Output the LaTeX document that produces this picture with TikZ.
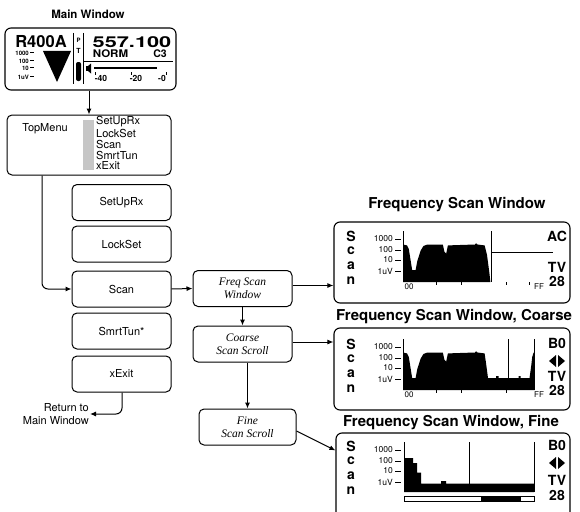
\documentclass[tikz,border=0pt]{standalone}
\usepackage{fontspec}
\usepackage{graphicx}
\setmainfont{TeX Gyre Heros}
\newfontfamily\timesfont{Liberation Serif}
\usetikzlibrary{arrows.meta}
\begin{document}
\begin{tikzpicture}[x=1pt, y=-1pt,
        menubox/.style={draw, line width=1pt, rounded corners=5pt, minimum width=99pt, minimum height=36pt, font=\fontsize{11}{11}\selectfont},
        stepbox/.style={draw, line width=1pt, rounded corners=5pt, minimum width=99pt, minimum height=36pt, align=center, font=\timesfont\itshape\fontsize{11.5}{13}\selectfont},
        winbox/.style={draw, line width=1.1pt, rounded corners=6pt, inner sep=0pt},
        wintitle/.style={font=\bfseries\fontsize{15}{15}\selectfont, inner sep=0pt},
        sideletter/.style={font=\bfseries\fontsize{14}{14}\selectfont, inner sep=0pt},
        lvllabel/.style={font=\fontsize{8.5}{9}\selectfont, anchor=east, inner sep=0pt},
        tinylabel/.style={font=\bfseries\fontsize{6}{6}\selectfont, anchor=east, inner sep=0pt},
        arr/.style={line width=1pt, -{Latex[length=6pt, width=5pt]}}
    ]
    \useasboundingbox (0,0) rectangle (580,511);

    % --- Main Window ---
    \node[font=\bfseries\fontsize{11.5}{12}\selectfont] (mwtitle) at (88,14) {Main Window};
    \node[winbox, minimum width=171pt, minimum height=62pt] (mainwin) at (90.5,59) {};
    \node[font=\bfseries\fontsize{16.5}{17}\selectfont, inner sep=0pt] (model) at (41,42) {R400A};
    \node[font=\bfseries\fontsize{15}{15}\selectfont, inner sep=0pt] (freq) at (132,42) {\scalebox{1.45}[1]{557.100}};
    \node[font=\bfseries\fontsize{10.5}{11}\selectfont, inner sep=0pt] (mode) at (110.5,54) {\scalebox{1.1}[1]{NORM}};
    \node[font=\bfseries\fontsize{10.5}{11}\selectfont, inner sep=0pt] (chan) at (160,54) {C3};
    \foreach \lv/\yy in {1000/53, 100/61, 10/68, 1uV/77} {
        \node[tinylabel] (m\lv) at (29,\yy) {\lv};
        \draw[line width=0.6pt] (30,\yy-1) -- (34,\yy-1);
    }
    \fill (43,51) -- (71,51) -- (57,82) -- cycle;
    \draw[line width=0.7pt] (73,33) -- (73,84);
    \draw[line width=0.7pt] (83,33) -- (83,84);
    \draw[line width=0.8pt] (83,61) -- (173,61);
    \node[font=\bfseries\fontsize{6}{6}\selectfont, inner sep=0pt] (mp) at (78.5,40) {P};
    \node[font=\bfseries\fontsize{7}{7}\selectfont, inner sep=0pt] (mt) at (78.5,51) {T};
    \fill[rounded corners=2pt] (76,62) rectangle (81,81);
    % altoparlante e barra del livello
    \fill (86,66) rectangle (88,71);
    \fill (88,66) -- (91,63.5) -- (91,73.5) -- (88,71) -- cycle;
    \draw[line width=2.5pt] (94,68) -- (157,68);
    \foreach \tx in {95,131,166}
        \draw[line width=0.6pt] (\tx,72) -- (\tx,75);
    \foreach \db/\tx in {-40/101, -20/136, -0/162}
        \node[font=\bfseries\fontsize{8.5}{9}\selectfont, inner sep=0pt] (db\tx) at (\tx,78) {\db};

    % --- TopMenu ---
    \node[menubox, minimum width=164pt, minimum height=60pt] (topmenu) at (89,145) {};
    \node[font=\fontsize{11}{11}\selectfont] (topname) at (45,129) {TopMenu};
    \fill[gray!45] (83,120) rectangle (94,170);
    \foreach \entry [count=\i] in {SetUpRx,LockSet,Scan,SmrtTun,xExit}
        \node[anchor=west, inner sep=0pt, font=\fontsize{11}{11}\selectfont] (item\i) at (96,111+11*\i) {\entry};
    \draw[arr] (mainwin.south -| topmenu.north) -- (topmenu.north);

    % --- Voci del menu ---
    \node[menubox] (setuprx) at (121.5,202.5) {SetUpRx};
    \node[menubox] (lockset) at (121.5,244) {LockSet};
    \node[menubox] (scan) at (121.5,289) {Scan};
    \node[menubox] (smrttun) at (121.5,331) {SmrtTun*};
    \node[menubox] (xexit) at (121.5,374) {xExit};
    \node[anchor=east, align=right, font=\fontsize{11}{12.5}\selectfont, inner sep=1pt] (return) at (90,414) {Return to\\Main Window};

    \draw[arr, rounded corners=6pt] ([xshift=-47pt]topmenu.south) |- (scan.west);
    \draw[arr, rounded corners=6pt] ([xshift=0.5pt]xexit.south) |- (return.east);

    % --- Scan ---
    \node[stepbox] (freqwin) at (242.5,288.5) {Freq Scan\\Window};
    \node[stepbox] (coarse) at (242.5,344) {Coarse\\Scan Scroll};
    \node[stepbox, minimum width=97pt] (fine) at (247.5,427) {Fine\\Scan Scroll};
    \draw[arr] (scan.east) -- (freqwin.west);
    \draw[arr] (freqwin) -- (coarse);
    \draw[arr] (fine.north |- coarse.south) -- (fine.north);

    % --- Finestre di scansione ---
    \node[wintitle] (t1) at (457,205) {Frequency Scan Window};
    \node[wintitle] (t2) at (454,317) {Frequency Scan Window, Coarse};
    \node[wintitle] (t3) at (451,423) {Frequency Scan Window, Fine};
    \node[winbox, minimum width=236pt, minimum height=81pt] (scanwin) at (452,262.5) {};
    \node[winbox, minimum width=236pt, minimum height=82pt] (coarsewin) at (452,369) {};
    \begin{scope}
        \clip (0,0) rectangle (580,511);
        \node[winbox, minimum width=234pt, minimum height=90pt] (finewin) at (453,478) {};
    \end{scope}
    \draw[arr] ([yshift=3pt]freqwin.east) -- ([yshift=3pt]freqwin.east -| scanwin.west);
    \draw[arr] ([yshift=2pt]coarse.east) -- ([yshift=2pt]coarse.east -| coarsewin.west);
    \draw[arr] ([yshift=-4pt]fine.east) -- ([yshift=-18pt]finewin.north west);

    % Finestra 1
    \begin{scope}
        \foreach \ch [count=\i] in {S,c,a,n}
            \node[sideletter] (as\i) at (351,221+15*\i) {\ch};
        \foreach \lv/\yy in {1000/239, 100/250, 10/260, 1uV/271} {
            \node[lvllabel] (al\lv) at (393,\yy) {\lv};
            \draw[line width=0.8pt] (395,\yy) -- (401,\yy);
        }
        \fill (403,282) -- (403,244.5) -- (407,245.4) -- (408.8,249) -- (411.2,264) -- (412.2,270)
            -- (415.6,270) -- (417.3,261) -- (420.7,250.5) -- (423.4,246) -- (427.5,244.5)
            -- (442.8,244.5) -- (444.5,252) -- (446.2,253.5) -- (447.9,245.4) -- (475,244.5)
            -- (476,243.3) -- (477.5,244.5) -- (484.6,245.4) -- (487,255) -- (489.4,273)
            -- (490.4,282) -- cycle;
        \draw[line width=0.7pt] (403,231) -- (403,282);
        \draw[line width=0.7pt] (491,231) -- (491,282);
        \draw[line width=0.7pt] (491,252) -- (553,252);
        \foreach \tx in {436,461,506,529}
            \draw[line width=0.6pt] (\tx,282) -- (\tx,285);
        \node[font=\fontsize{8}{8}\selectfont, inner sep=0pt] (a00) at (409,287) {00};
        \node[font=\fontsize{8}{8}\selectfont, inner sep=0pt] (aff) at (539,287) {FF};
        \node[sideletter] (aac) at (557,236) {AC};
        \node[sideletter] (atv) at (557,267) {TV};
        \node[sideletter] (a28) at (557,281) {28};
    \end{scope}

    % Finestra 2
    \begin{scope}[shift={(0,108)}]
        \foreach \ch [count=\i] in {S,c,a,n}
            \node[sideletter] (bs\i) at (351,221+15*\i) {\ch};
        \foreach \lv/\yy in {1000/239, 100/250, 10/260, 1uV/271} {
            \node[lvllabel] (bl\lv) at (393,\yy) {\lv};
            \draw[line width=0.8pt] (395,\yy) -- (401,\yy);
        }
        \fill (403,282) -- (403,244.5) -- (407,245.4) -- (408.8,249) -- (411.2,264) -- (412.2,270)
            -- (415.6,270) -- (417.3,261) -- (420.7,250.5) -- (423.4,246) -- (427.5,244.5)
            -- (442.8,244.5) -- (444.5,252) -- (446.2,253.5) -- (447.9,245.4) -- (475,244.5)
            -- (476,243.3) -- (477.5,244.5) -- (484.6,245.4) -- (486,255) -- (488,270)
            -- (496,270) -- (496,268) -- (498.5,268) -- (498.5,270) -- (518.6,270) -- (518.6,268)
            -- (520.6,268) -- (520.6,270) -- (529.5,270) -- (531.2,258) -- (532.2,249)
            -- (533.6,244.5) -- (534.6,244.5) -- (534.6,282) -- cycle;
        \draw[line width=0.7pt] (403,231) -- (403,282);
        \draw[line width=0.7pt] (508,231) -- (508,282);
        \draw[line width=0.7pt] (534.6,231) -- (534.6,282);
        \foreach \tx in {436,461,506}
            \draw[line width=0.6pt] (\tx,282) -- (\tx,285);
        \node[font=\fontsize{8}{8}\selectfont, inner sep=0pt] (b00) at (409,287) {00};
        \node[font=\fontsize{8}{8}\selectfont, inner sep=0pt] (bff) at (539,287) {FF};
        \node[sideletter] (bb0) at (557,235) {B0};
        \fill (549,253) -- (556,247) -- (556,259) -- cycle;
        \fill (565,253) -- (558,247) -- (558,259) -- cycle;
        \node[sideletter] (btv) at (557,268) {TV};
        \node[sideletter] (b28) at (557,282) {28};
    \end{scope}

    % Finestra 3
    \begin{scope}[shift={(0,210)}]
        \foreach \ch [count=\i] in {S,c,a,n}
            \node[sideletter] (cs\i) at (351,221+15*\i) {\ch};
        \foreach \lv/\yy in {1000/240, 100/251, 10/261, 1uV/272} {
            \node[lvllabel] (cl\lv) at (393,\yy) {\lv};
            \draw[line width=0.8pt] (395,\yy) -- (401,\yy);
        }
        \fill (404,282) -- (404,248) -- (413,248) -- (413,253) -- (417,253) -- (417,262.6)
            -- (421,262.6) -- (421,273.5) -- (441,273.5) -- (441,271) -- (446,271) -- (446,273.5)
            -- (534,273.5) -- (534,282) -- cycle;
        \draw[line width=0.7pt] (404,232) -- (404,282);
        \draw[line width=0.7pt] (469,232) -- (469,282);
        \draw[line width=0.7pt] (534,232) -- (534,282);
        \draw[line width=0.7pt] (404,286) rectangle (534,291);
        \fill (481,286) rectangle (521,291);
        \node[sideletter] (cb0) at (557,235) {B0};
        \fill (549,253) -- (556,247) -- (556,259) -- cycle;
        \fill (565,253) -- (558,247) -- (558,259) -- cycle;
        \node[sideletter] (ctv) at (557,270) {TV};
        \node[sideletter] (c28) at (557,285) {28};
    \end{scope}

\end{tikzpicture}
\end{document}
